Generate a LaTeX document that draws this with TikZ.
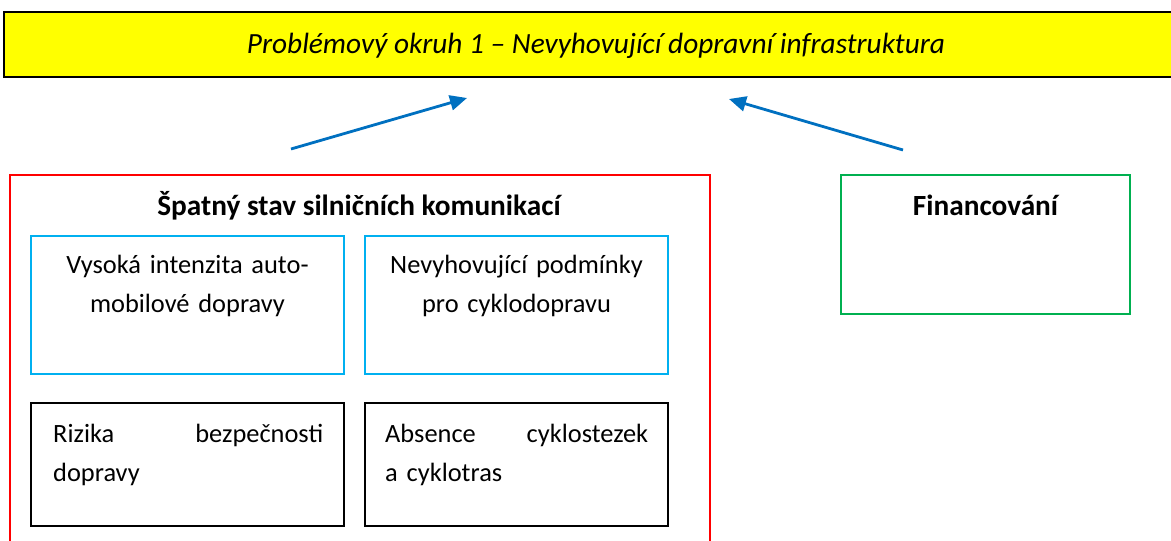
\documentclass[tikz,border=0pt]{standalone}
\usepackage{fontspec}
\setmainfont{Carlito}
\usetikzlibrary{arrows.meta}
\definecolor{wblue}{RGB}{0,112,192}
\definecolor{lblue}{RGB}{0,176,240}
\definecolor{wgreen}{RGB}{0,176,80}
\definecolor{wred}{RGB}{255,0,0}
\definecolor{wyellow}{RGB}{255,255,0}
\begin{document}
\begin{tikzpicture}[x=1pt,y=-1pt,
  box/.style={draw, anchor=north west, inner sep=0pt, outer sep=0pt, line width=1.5pt},
  txt/.style={inner sep=0pt, anchor=base, font=\fontsize{26.4}{39}\selectfont},
  head/.style={inner sep=0pt, anchor=base, font=\fontsize{29.3}{35}\selectfont\bfseries},
  arr/.style={draw=wblue, line width=2.8pt, -{Triangle[length=17pt,width=15pt]}}]
\useasboundingbox (0,0) rectangle (1171,541);
% banner
\node[box, fill=wyellow, line width=2.5pt, minimum width=1180pt, minimum height=65pt] (banner) at (4,12) {};
\node[txt, font=\fontsize{29.3}{35}\selectfont\itshape] (bannertext) at (596,53) {Problémový okruh 1 – Nevyhovující dopravní infrastruktura};
% arrows
\coordinate (a1s) at (291,149);
\coordinate (a1e) at (467,98);
\coordinate (a2s) at (903,150);
\coordinate (a2e) at (729,99);
\draw[arr] (a1s) -- (a1e);
\draw[arr] (a2s) -- (a2e);
% red group
\node[box, draw=wred, minimum width=700pt, minimum height=420pt] (red) at (10,175) {};
\node[head] (redtitle) at (359,215) {Špatný stav silničních komunikací};
\node[box, draw=lblue, minimum width=313pt, minimum height=138pt] (b1) at (31,236) {};
\node[box, draw=lblue, minimum width=303pt, minimum height=138pt] (b2) at (365,236) {};
\node[box, draw=black, minimum width=313pt, minimum height=123pt] (c1) at (31,403) {};
\node[box, draw=black, minimum width=303pt, minimum height=123pt] (c2) at (365,403) {};
\node[txt, text width=300pt, align=center] (b1t) at (b1.north |- 0,273) {Vysoká intenzita auto-\\mobilové dopravy};
\node[txt, text width=290pt, align=center] (b2t) at (b2.north |- 0,273) {Nevyhovující podmínky\\pro cyklodopravu};
\node[txt, anchor=base west, text width=270pt, align=left] (c1t) at (53,442) {Rizika\hfill bezpečnosti\\dopravy};
\node[txt, anchor=base west, text width=263pt, align=left] (c2t) at (385,442) {Absence\hfill cyklostezek\\a cyklotras};
% green
\node[box, draw=wgreen, minimum width=289pt, minimum height=139pt] (fin) at (841,175) {};
\node[head] (fint) at (fin.north |- 0,215) {Financování};
\end{tikzpicture}
\end{document}
